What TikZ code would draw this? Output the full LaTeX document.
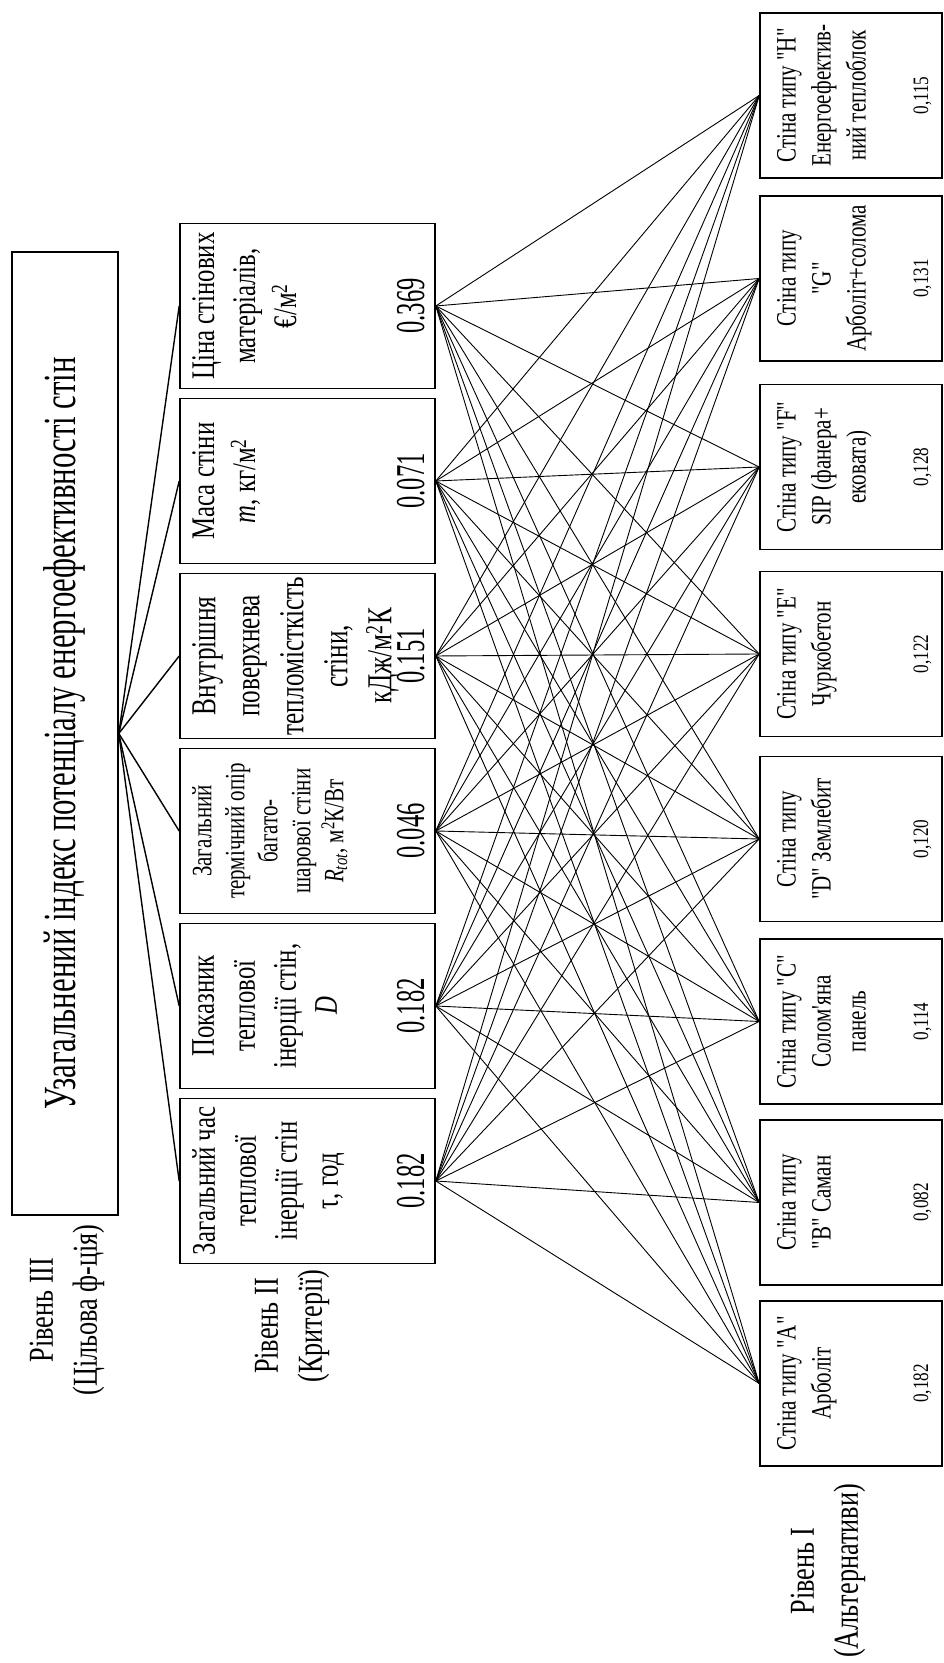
\documentclass[tikz,border=0pt]{standalone}
\usepackage{fontspec}
\setmainfont{Liberation Serif}[FakeStretch=0.75, Ligatures=TeXOff]
\newfontfamily\goalfont{Liberation Serif}[FakeStretch=0.67]
\newfontfamily\numfont{Liberation Serif}[FakeStretch=0.6]
\newfontfamily\widefont{Liberation Serif}[FakeStretch=0.78, Ligatures=TeXOff]
\newfontfamily\boxfont{Liberation Serif}[FakeStretch=0.72, Ligatures=TeXOff]
\usetikzlibrary{calc, positioning}
\tikzset{
  box/.style={draw, line width=1.6pt, inner sep=0pt},
  stem/.style={line width=1.4pt},
  link/.style={line width=0.9pt},
  lvl/.style={font=\fontsize{35}{44}\selectfont, align=center, inner sep=0pt},
  crit/.style={font=\fontsize{33}{41}\selectfont, align=center, anchor=north, inner sep=0pt},
  critsmall/.style={crit, font=\fontsize{28}{33}\selectfont},
  critwide/.style={crit, font=\boxfont\fontsize{35}{44}\selectfont},
  critval/.style={font=\numfont\fontsize{41}{41}\selectfont, anchor=base, inner sep=0pt},
  alt/.style={font=\fontsize{28}{35}\selectfont, align=center, anchor=north, inner sep=0pt},
  altval/.style={font=\widefont\fontsize{22}{22}\selectfont, anchor=base, inner sep=0pt},
}

\begin{document}
\begin{tikzpicture}[x=1pt, y=1pt]
  \useasboundingbox (0,0) rectangle (944,1663);
  \begin{scope}[shift={(944,0)}, rotate=90, transform shape]
  % рівень III
  \node[box, minimum width=963pt, minimum height=106pt] (goal) at (929.5,879)
    {\goalfont\fontsize{46}{50}\selectfont Узагальнений індекс потенціалу енергоефективності стін};
  % рівень II
  \foreach \n/\s/\txt/\val in {
     1/crit/{Загальний час\\теплової\\інерції стін\\τ, год}/0.182,
     2/crit/{Показник\\теплової\\інерції стін,\\\textit{D}}/0.182,
     3/critsmall/{Загальний\\термічний опір\\багато-\\шарової стіни\\\textit{R}\textsubscript{\textit{tot}}, м\textsuperscript{2}К/Вт}/0.046,
     4/critwide/{Внутрішня\\поверхнева\\тепломісткість\\стіни,\\кДж/м\textsuperscript{2}К}/0.151,
     5/crit/{Маса стіни\\\textit{m}, кг/м\textsuperscript{2}}/0.071,
     6/crit/{Ціна стінових\\матеріалів,\\€/м\textsuperscript{2}}/0.369} {
    \node[box, minimum width=165pt, minimum height=255pt] (c\n) at (307+175*\n,636.5) {};
    \node[\s] (c\n txt) at (307+175*\n,752) {\txt};
    \node[critval] (c\n val) at (307+175*\n,520) {\val};
  }
  % рівень I
  \foreach \n/\X/\txt/\val in {
     A/279.5/{Стіна типу "A"\\Арболіт}/{0,182},
     B/460.5/{Стіна типу\\"B" Саман}/{0,082},
     C/641.5/{Стіна типу "C"\\Солом'яна\\панель}/{0,114},
     D/824/{Стіна типу\\"D" Землебит}/{0,120},
     E/1009/{Стіна типу "E"\\Чуркобетон}/{0,122},
     F/1196/{Стіна типу "F"\\SIP (фанера+\\ековата)}/{0,128},
     G/1384.5/{Стіна типу\\"G"\\Арболіт+солома}/{0,131},
     H/1567.5/{Стіна типу "H"\\Енергоефектив-\\ний теплоблок}/{0,115}} {
    \node[box, minimum width=165pt, minimum height=182pt] (a\n) at (\X,93) {};
    \node[alt] (a\n txt) at (\X,167) {\txt};
    \node[altval] (a\n val) at (\X,16) {\val};
  }
  % зв'язки
  \foreach \i in {1,...,6} {
    \draw[stem] (goal.south) -- (c\i.north);
    \foreach \j in {A,...,H}
      \draw[link] (c\i.south) -- (a\j.north);
  }
  % підписи рівнів
  \node[lvl] (lev3) at (353,877) {Рівень III\\(Цільова ф-ція)};
  \node[lvl] (lev2) at (337,652) {Рівень II\\(Критерії)};
  \node[lvl] (lev1) at (92,116) {Рівень I\\(Альтернативи)};
  \end{scope}
\end{tikzpicture}
\end{document}
